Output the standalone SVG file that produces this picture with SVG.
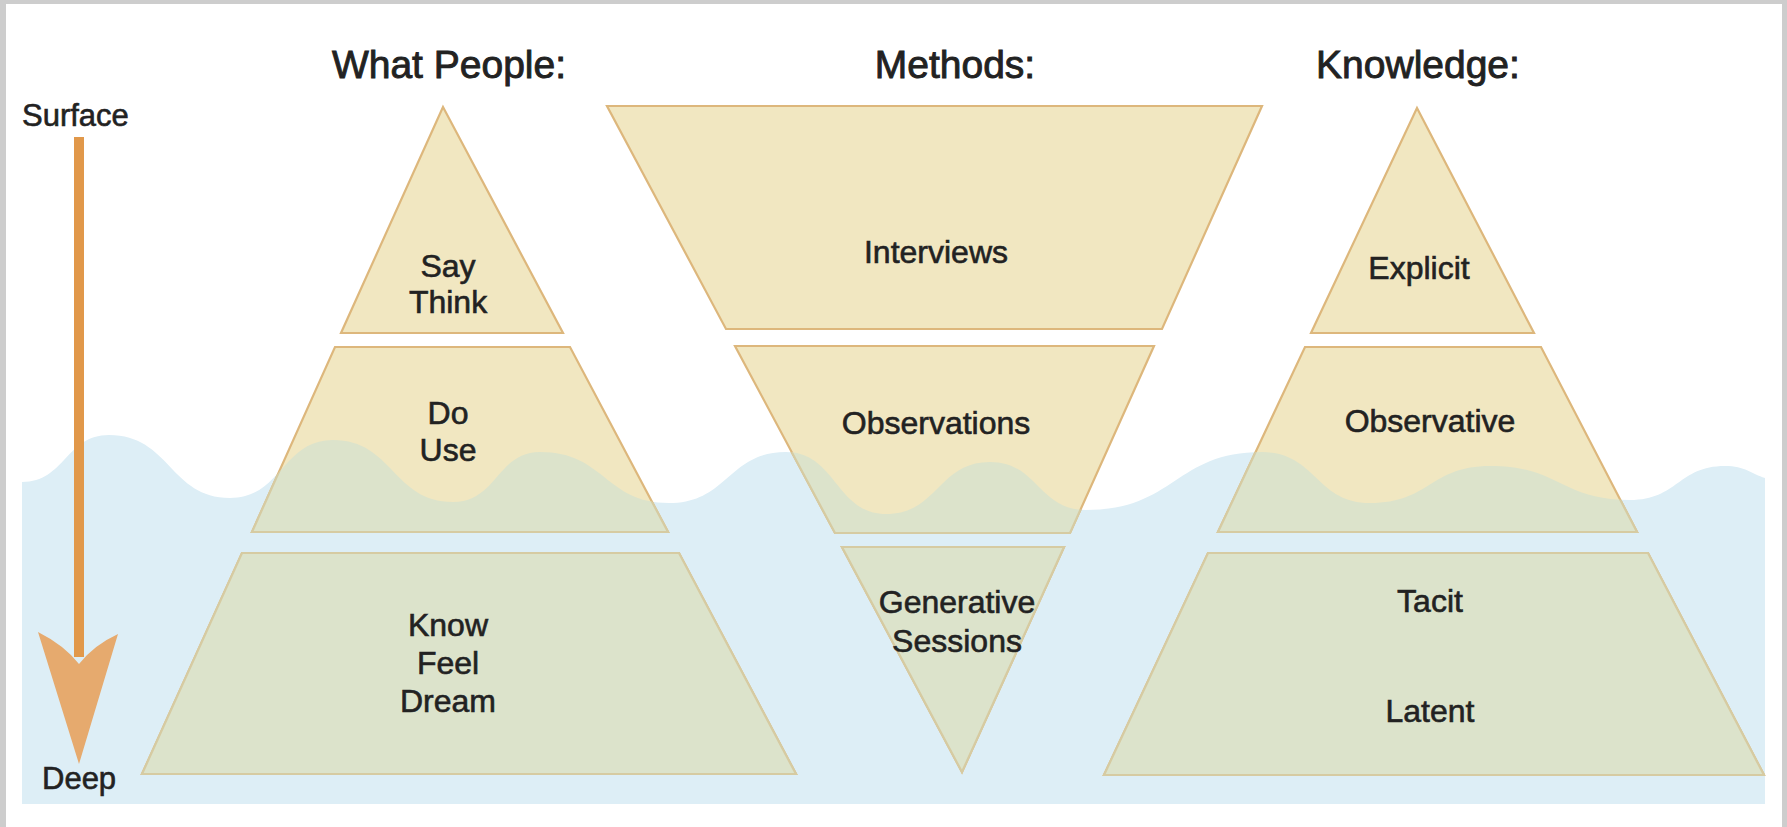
<svg xmlns="http://www.w3.org/2000/svg" xmlns:xlink="http://www.w3.org/1999/xlink" width="1787" height="827" viewBox="0 0 1787 827">
<style>
text{font-family:"Liberation Sans",Arial,sans-serif;fill:#222;stroke:#222;stroke-width:0.6;text-anchor:middle}
.title{font-size:39px;stroke-width:0.9}
.lbl{font-size:32px}
.axis{font-size:31px;text-anchor:start}
.above{fill:#F1E7C1;stroke:#DDB77C;stroke-width:2.2;stroke-linejoin:miter}
.below{fill:#DCE3CB;stroke:#D6CBA2;stroke-width:2.2}
.water{fill:#DDEEF6}
</style>
<defs>
<path id="wave" d="M22,482 C65,482 66,435 109,435 C170,435 170,498 230,498 C282,498 282,440 333,440 C393,440 393,502 453,502 C497,502 497,452 540,452 C605,452 605,503 669,503 C728,503 728,452 786,452 C836,452 836,514 886,514 C938,514 938,462 990,462 C1038,462 1038,510 1086,510 C1175,510 1175,452 1262,452 C1316,452 1316,503 1370,503 C1430,503 1430,466 1490,466 C1560,466 1560,500 1630,500 C1678,500 1678,466 1725,466 C1745,466 1752,474 1765,478 L1765,804 L22,804 Z"/>
<clipPath id="waterClip"><path d="M22,482 C65,482 66,435 109,435 C170,435 170,498 230,498 C282,498 282,440 333,440 C393,440 393,502 453,502 C497,502 497,452 540,452 C605,452 605,503 669,503 C728,503 728,452 786,452 C836,452 836,514 886,514 C938,514 938,462 990,462 C1038,462 1038,510 1086,510 C1175,510 1175,452 1262,452 C1316,452 1316,503 1370,503 C1430,503 1430,466 1490,466 C1560,466 1560,500 1630,500 C1678,500 1678,466 1725,466 C1745,466 1752,474 1765,478 L1765,804 L22,804 Z"/></clipPath>
<polygon id="wp1" points="443,107 563,333 341,333"/>
<polygon id="wp2" points="335,347 570,347 668,532 252,532"/>
<polygon id="wp3" points="242,553 679,553 796,774 142,774"/>
<polygon id="m1" points="607,106 1262,106 1162,329 726,329"/>
<polygon id="m2" points="735,346 1154,346 1070,533 835,533"/>
<polygon id="m3" points="842,547 1064,547 962,772"/>
<polygon id="k1" points="1417,108 1534,333 1311,333"/>
<polygon id="k2" points="1305,347 1541,347 1637,532 1218,532"/>
<polygon id="k3" points="1208,553 1648,553 1764,775 1104,775"/>
</defs>

<rect x="0" y="0" width="1787" height="827" fill="#CDCDCD"/>
<rect x="6" y="4" width="1776" height="823" fill="#FFFFFF"/>

<use href="#wave" class="water"/>

<g id="axis">
<text class="axis" x="22" y="126">Surface</text>
<text class="axis" x="42" y="789">Deep</text>
</g>

<g id="connectors">
<rect x="74" y="137" width="10" height="520" fill="#E1984A"/>
<path d="M38,632 Q64,645 79,664 Q94,645 118,634 L79,764 Z" fill="#E6AA6E"/>
</g>

<g id="titles">
<text class="title" x="449" y="78">What People:</text>
<text class="title" x="955" y="78">Methods:</text>
<text class="title" x="1418" y="78">Knowledge:</text>
</g>

<g id="node-say-think">
<use href="#wp1" class="above"/>
<use href="#wp1" class="below" clip-path="url(#waterClip)"/>
<text class="lbl" x="448" y="277">Say</text>
<text class="lbl" x="448" y="313">Think</text>
</g>
<g id="node-do-use">
<use href="#wp2" class="above"/>
<use href="#wp2" class="below" clip-path="url(#waterClip)"/>
<text class="lbl" x="448" y="424">Do</text>
<text class="lbl" x="448" y="461">Use</text>
</g>
<g id="node-know-feel-dream">
<use href="#wp3" class="above"/>
<use href="#wp3" class="below" clip-path="url(#waterClip)"/>
<text class="lbl" x="448" y="636">Know</text>
<text class="lbl" x="448" y="674">Feel</text>
<text class="lbl" x="448" y="712">Dream</text>
</g>

<g id="node-interviews">
<use href="#m1" class="above"/>
<use href="#m1" class="below" clip-path="url(#waterClip)"/>
<text class="lbl" x="936" y="263">Interviews</text>
</g>
<g id="node-observations">
<use href="#m2" class="above"/>
<use href="#m2" class="below" clip-path="url(#waterClip)"/>
<text class="lbl" x="936" y="434">Observations</text>
</g>
<g id="node-generative-sessions">
<use href="#m3" class="above"/>
<use href="#m3" class="below" clip-path="url(#waterClip)"/>
<text class="lbl" x="957" y="613">Generative</text>
<text class="lbl" x="957" y="652">Sessions</text>
</g>

<g id="node-explicit">
<use href="#k1" class="above"/>
<use href="#k1" class="below" clip-path="url(#waterClip)"/>
<text class="lbl" x="1419" y="279">Explicit</text>
</g>
<g id="node-observative">
<use href="#k2" class="above"/>
<use href="#k2" class="below" clip-path="url(#waterClip)"/>
<text class="lbl" x="1430" y="432">Observative</text>
</g>
<g id="node-tacit-latent">
<use href="#k3" class="above"/>
<use href="#k3" class="below" clip-path="url(#waterClip)"/>
<text class="lbl" x="1430" y="612">Tacit</text>
<text class="lbl" x="1430" y="722">Latent</text>
</g>
</svg>
